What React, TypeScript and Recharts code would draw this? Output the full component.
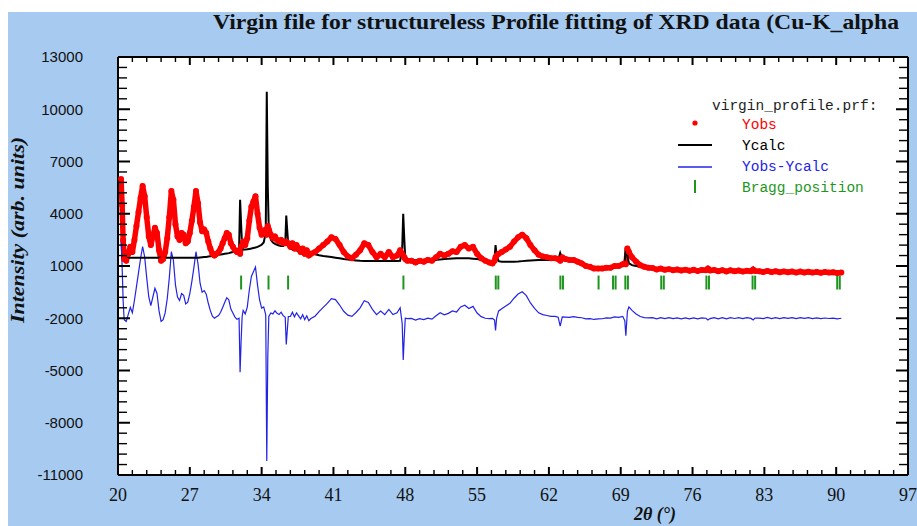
import React from 'react';
import { ComposedChart, XAxis, YAxis, Scatter, Line, ReferenceLine, CartesianGrid, Legend } from 'recharts';

// ---- 2theta grid (deg) and intensities ----
const twoThetaA = [
  20.3, 20.4, 20.5, 20.6, 20.8, 21.0, 21.2, 21.4, 21.6, 21.8,
  22.0, 22.2, 22.4, 22.6, 22.8, 23.0, 23.2, 23.4, 23.6, 23.8,
  24.0, 24.2, 24.4, 24.6, 24.8, 25.0, 25.2, 25.4, 25.6, 25.8,
  26.0, 26.2, 26.4, 26.6, 26.8, 27.0, 27.2, 27.4, 27.6, 27.8,
  28.0, 28.2, 28.4, 28.6, 28.8, 29.0, 29.2, 29.4, 29.6, 29.8,
  30.0, 30.2, 30.4, 30.6, 30.8, 31.0, 31.2, 31.4, 31.6, 31.8,
  31.9, 32.0, 32.1, 32.2, 32.4, 32.6, 32.8, 33.0, 33.2, 33.4,
  33.6, 33.8, 34.0, 34.2, 34.4, 34.5, 34.6, 34.7, 34.9, 35.1,
  35.3, 35.5, 35.7, 35.9, 36.1, 36.3, 36.4, 36.5, 36.6, 36.8,
  37.0, 37.2, 37.4, 37.6, 37.8, 38.0, 38.2, 38.4, 38.6, 38.8,
];
const yObsA = [
  6000, 4500, 2500, 1400, 1300, 1700, 2100, 1800, 2500, 3300,
  4100, 4900, 5600, 5000, 3800, 2700, 2200, 2700, 3200, 2900,
  1900, 1300, 1400, 1800, 2600, 3800, 5300, 4800, 3400, 2700,
  2500, 2900, 2800, 2300, 2400, 2900, 3600, 4400, 5300, 4600,
  3500, 3000, 3100, 2900, 2400, 2000, 1700, 1600, 1700, 1800,
  2000, 2300, 2600, 2900, 2800, 2300, 2100, 1900, 1800, 1900,
  1700, 2100, 2200, 2400, 2200, 2600, 3600, 4400, 4700, 5000,
  4000, 3200, 2800, 3000, 3100, 2800, 3300, 3100, 2800, 2600,
  2700, 2500, 2400, 2500, 2300, 2300, 2400, 2300, 2300, 2100,
  2300, 2000, 2200, 2000, 1800, 2000, 1700, 1900, 1600, 1700,
];
const yCalcA = [
  1480, 1480, 1480, 1480, 1480, 1480, 1480, 1480, 1480, 1480,
  1480, 1480, 1480, 1480, 1480, 1480, 1480, 1480, 1480, 1480,
  1480, 1480, 1480, 1480, 1480, 1480, 1480, 1480, 1480, 1480,
  1480, 1480, 1480, 1480, 1480, 1480, 1480, 1480, 1480, 1480,
  1490, 1500, 1510, 1520, 1540, 1560, 1580, 1600, 1620, 1640,
  1660, 1680, 1700, 1720, 1740, 1770, 1800, 1830, 1860, 1900,
  4800, 3400, 2100, 1950, 1950, 1960, 1980, 2000, 2030, 2060,
  2100, 2150, 2220, 2350, 2900, 11000, 5500, 3000, 2500, 2350,
  2270, 2220, 2180, 2150, 2150, 2250, 3900, 3000, 2200, 2000,
  1950, 1920, 1890, 1860, 1830, 1800, 1780, 1760, 1740, 1720,
];

const twoThetaB = [
  39.2, 39.6, 40.0, 40.4, 40.8, 41.2, 41.6, 42.0, 42.4, 42.8,
  43.2, 43.6, 44.0, 44.4, 44.8, 45.2, 45.6, 46.0, 46.4, 46.8,
  47.2, 47.5, 47.7, 47.8, 47.9, 48.0, 48.2, 48.6, 49.0, 49.4,
  49.8, 50.2, 50.6, 51.0, 51.4, 51.8, 52.2, 52.6, 53.0, 53.4,
  53.8, 54.2, 54.6, 55.0, 55.4, 55.8, 56.2, 56.5, 56.7, 56.8,
  56.9, 57.1, 57.4,
];
const yObsB = [
  1800, 2000, 2200, 2400, 2650, 2550, 2200, 1800, 1550, 1450,
  1650, 1900, 2300, 2200, 1800, 1500, 1700, 1500, 1800, 1500,
  1600, 1900, 1700, 1600, 1500, 1400, 1300, 1300, 1200, 1300,
  1250, 1350, 1300, 1500, 1700, 1600, 1700, 1850, 1800, 2100,
  2200, 2000, 2100, 1700, 1450, 1300, 1200, 1150, 1300, 1500,
  1600, 1700, 1800,
];
const yCalcB = [
  1680, 1620, 1580, 1550, 1520, 1480, 1440, 1400, 1370, 1340,
  1320, 1300, 1290, 1290, 1290, 1290, 1290, 1290, 1290, 1290,
  1290, 1300, 2000, 4000, 2600, 1400, 1320, 1310, 1310, 1320,
  1330, 1340, 1350, 1360, 1380, 1400, 1420, 1430, 1440, 1450,
  1450, 1440, 1420, 1400, 1360, 1300, 1220, 1160, 1400, 2200,
  1600, 1280, 1250,
];

const twoThetaC = [
  57.8, 58.2, 58.6, 59.0, 59.4, 59.8, 60.2, 60.6, 61.0, 61.4,
  61.8, 62.2, 62.6, 62.9, 63.1, 63.3, 63.6, 64.0, 64.4, 64.8,
  65.2, 65.6, 66.0, 66.4, 66.8, 67.2, 67.6, 68.0, 68.4, 68.8,
  69.2, 69.4, 69.5, 69.65, 69.8, 70.1, 70.5, 70.9, 71.3, 71.7,
  72.1, 72.5, 72.9, 73.3, 73.7, 74.1, 74.5, 74.9, 75.3, 75.7,
  76.1, 76.5, 76.9, 77.3, 77.5, 77.7, 78.1, 78.5, 78.9, 79.3,
  79.7, 80.1, 80.5, 80.9, 81.3, 81.7, 81.9, 82.1, 82.5, 82.9,
  83.3, 83.7, 84.1, 84.5, 84.9, 85.3, 85.7, 86.1, 86.5, 86.9,
  87.3, 87.7, 88.1, 88.5, 88.9, 89.3, 89.7, 90.1, 90.5,
];
const yObsC = [
  1950, 2100, 2400, 2650, 2800, 2600, 2200, 1900, 1650, 1550,
  1500, 1450, 1450, 1400, 1300, 1500, 1400, 1350, 1350, 1250,
  1150, 1000, 950, 850, 850, 850, 900, 900, 1000, 1000,
  1100, 1150, 1100, 2000, 1800, 1500, 1250, 1050, 950, 900,
  880, 800, 850, 780, 820, 760, 800, 740, 790, 730,
  780, 720, 770, 760, 850, 740, 770, 700, 760, 690,
  750, 700, 740, 680, 730, 700, 800, 720, 700, 660,
  720, 650, 700, 640, 690, 640, 680, 620, 680, 630,
  670, 620, 660, 610, 650, 620, 640, 600, 630,
];
const yCalcC = [
  1240, 1240, 1250, 1260, 1280, 1300, 1320, 1330, 1340, 1340,
  1340, 1340, 1340, 1340, 1750, 1420, 1330, 1300, 1260, 1200,
  1120, 1040, 970, 920, 890, 880, 880, 890, 920, 950,
  1000, 1300, 2100, 1600, 1150, 1050, 1000, 950, 910, 880,
  850, 830, 810, 800, 790, 780, 775, 770, 765, 760,
  755, 750, 750, 760, 950, 760, 740, 735, 730, 725,
  720, 715, 710, 705, 700, 710, 900, 710, 690, 680,
  675, 670, 665, 660, 655, 650, 645, 640, 640, 640,
  640, 640, 635, 635, 635, 635, 635, 630, 630,
];

const braggPositions = [
  32.0, 34.67, 36.58, 47.82, 56.82, 57.07, 63.12, 63.37, 66.84,
  68.25, 68.5, 69.45, 69.7, 72.95, 73.2, 77.35, 77.6, 81.85, 82.1, 90.1, 90.35,
];

const xMajorTicks = [20, 27, 34, 41, 48, 55, 62, 69, 76, 83, 90, 97];
const yMajorTicks = [-11000, -8000, -5000, -2000, 1000, 4000, 7000, 10000, 13000];
const diffOffset = -2000;

const twoTheta = [...twoThetaA, ...twoThetaB, ...twoThetaC];
const yObs = [...yObsA, ...yObsB, ...yObsC];
const yCalc = [...yCalcA, ...yCalcB, ...yCalcC];
const nPts = Math.min(twoTheta.length, yObs.length, yCalc.length);
const data = twoTheta.slice(0, nPts).map((tt, i) => ({
  tt,
  yObs: yObs[i],
  yCalc: yCalc[i],
  diff: yObs[i] - yCalc[i] + diffOffset,
}));

function withMinor(majors: number[], parts: number) {
  const out: number[] = [];
  for (let i = 0; i < majors.length - 1; i++) {
    const a = majors[i];
    const b = majors[i + 1];
    for (let k = 0; k < parts; k++) out.push(Math.round((a + ((b - a) * k) / parts) * 1000) / 1000);
  }
  out.push(majors[majors.length - 1]);
  return out;
}
const xTicks = withMinor(xMajorTicks, 5);
const yTicks = withMinor(yMajorTicks, 5);

const RED = '#ff0000';
const BLUE = '#2323e6';
const GREEN = '#1e961e';

const XBottomTick = (props: any) => {
  const { x, y, payload } = props;
  const major = xMajorTicks.includes(payload.value);
  return (
    <g>
      <line x1={x} x2={x} y1={y} y2={y - (major ? 8 : 5)} stroke="#000" strokeWidth={major ? 2 : 1.4} />
      {major && (
        <text x={x} y={y + 26} textAnchor="middle" fontFamily="'Liberation Serif', 'Times New Roman', serif" fontSize={18} fill="#111">
          {payload.value}
        </text>
      )}
    </g>
  );
};
const XTopTick = (props: any) => {
  const { x, y, payload } = props;
  const major = xMajorTicks.includes(payload.value);
  return <line x1={x} x2={x} y1={y} y2={y + (major ? 8 : 5)} stroke="#000" strokeWidth={major ? 2 : 1.4} />;
};
const YLeftTick = (props: any) => {
  const { x, y, payload } = props;
  const major = yMajorTicks.includes(payload.value);
  return (
    <g>
      <line x1={x} x2={x + (major ? 12 : 9)} y1={y} y2={y} stroke="#000" strokeWidth={major ? 2 : 1.4} />
      {major && (
        <text x={x - 35} y={y} dy="0.36em" textAnchor="end" fontFamily="'Liberation Sans', Arial, sans-serif" fontSize={15} fill="#111">
          {payload.value}
        </text>
      )}
    </g>
  );
};
const YRightTick = (props: any) => {
  const { x, y, payload } = props;
  const major = yMajorTicks.includes(payload.value);
  return <line x1={x} x2={x - (major ? 12 : 9)} y1={y} y2={y} stroke="#000" strokeWidth={major ? 2 : 1.4} />;
};

const mono = "'Liberation Mono', 'Courier New', monospace";
const renderLegend = () => (
  <svg width={240} height={110} style={{ display: 'block' }}>
    <text x={44} y={18} fontFamily={mono} fontSize={14.5} fill="#222">virgin_profile.prf:</text>
    <circle cx={27} cy={31} r={2.6} fill={RED} />
    <text x={74} y={37} fontFamily={mono} fontSize={14.5} fill={RED}>Yobs</text>
    <line x1={10} x2={44} y1={53} y2={53} stroke="#000" strokeWidth={2} />
    <text x={74} y={58} fontFamily={mono} fontSize={14.5} fill="#000">Ycalc</text>
    <line x1={10} x2={44} y1={75} y2={75} stroke={BLUE} strokeWidth={1.5} />
    <text x={74} y={79} fontFamily={mono} fontSize={14.5} fill={BLUE}>Yobs-Ycalc</text>
    <line x1={27} x2={27} y1={88} y2={101} stroke={GREEN} strokeWidth={2} />
    <text x={74} y={100} fontFamily={mono} fontSize={14.5} fill={GREEN}>Bragg_position</text>
  </svg>
);

const ObsDot = (p: any) => <circle cx={p.cx} cy={p.cy} r={3} fill={RED} />;

export default function App() {
  return (
    <div style={{ position: 'absolute', left: 8, top: 12, width: 909, height: 514, background: '#A6CAF0', overflow: 'hidden' }}>
      <ComposedChart width={909} height={514} data={data} margin={{ top: 0, right: 0, bottom: 0, left: 0 }}>
        <CartesianGrid xAxisId="b" yAxisId="l" horizontal={false} vertical={false} fill="#ffffff" />
        <XAxis xAxisId="b" dataKey="tt" type="number" domain={[20, 97]} allowDataOverflow ticks={xTicks} interval={0}
          height={51} tickSize={0} tickMargin={0} tickLine={false} axisLine={{ stroke: '#000', strokeWidth: 2 }} tick={XBottomTick} />
        <XAxis xAxisId="t" orientation="top" dataKey="tt" type="number" domain={[20, 97]} allowDataOverflow ticks={xTicks} interval={0}
          height={45} tickSize={0} tickMargin={0} tickLine={false} axisLine={{ stroke: '#000', strokeWidth: 2 }} tick={XTopTick} />
        <YAxis yAxisId="l" type="number" domain={[-11000, 13000]} allowDataOverflow ticks={yTicks} interval={0}
          width={110} tickSize={0} tickMargin={0} tickLine={false} axisLine={{ stroke: '#000', strokeWidth: 2 }} tick={YLeftTick} />
        <YAxis yAxisId="r" orientation="right" type="number" domain={[-11000, 13000]} allowDataOverflow ticks={yTicks} interval={0}
          width={9} tickSize={0} tickMargin={0} tickLine={false} axisLine={{ stroke: '#000', strokeWidth: 2 }} tick={YRightTick} />
        <Line xAxisId="b" yAxisId="l" type="linear" dataKey="yObs" name="Yobs band" stroke={RED} strokeWidth={5.5} strokeLinejoin="round" dot={false} activeDot={false} legendType="none" isAnimationActive={false} />
        <Scatter xAxisId="b" yAxisId="l" dataKey="yObs" name="Yobs" fill={RED} shape={ObsDot} isAnimationActive={false} />
        <Line xAxisId="b" yAxisId="l" type="linear" dataKey="diff" name="Yobs-Ycalc" stroke={BLUE} strokeWidth={1.2} dot={false} activeDot={false} isAnimationActive={false} />
        <Line xAxisId="b" yAxisId="l" type="linear" dataKey="yCalc" name="Ycalc" stroke="#000" strokeWidth={2} dot={false} activeDot={false} isAnimationActive={false} />
        {braggPositions.map((p) => (
          <ReferenceLine key={p} xAxisId="b" yAxisId="l" segment={[{ x: p, y: 450 }, { x: p, y: -350 }]} stroke={GREEN} strokeWidth={2} />
        ))}
        <Legend layout="vertical" align="center" verticalAlign="middle" content={renderLegend}
          wrapperStyle={{ position: 'absolute', left: 660, top: 80, width: 240, height: 110 }} />
      </ComposedChart>
      <svg width={909} height={514} style={{ position: 'absolute', left: 0, top: 0, pointerEvents: 'none' }}>
        <text x={205} y={17} textLength={686} lengthAdjust="spacingAndGlyphs" fontFamily="'Liberation Serif', 'Times New Roman', serif"
          fontWeight="bold" fontSize={20} fill="#111">Virgin file for structureless Profile fitting of XRD data (Cu-K_alpha</text>
        <text transform="translate(16, 218) rotate(-90)" textAnchor="middle" textLength={186} lengthAdjust="spacingAndGlyphs"
          fontFamily="'Liberation Serif', 'Times New Roman', serif" fontWeight="bold" fontStyle="italic" fontSize={18} fill="#111">Intensity (arb. units)</text>
        <text x={647} y={508} textAnchor="middle" fontFamily="'Liberation Serif', 'Times New Roman', serif" fontWeight="bold"
          fontStyle="italic" fontSize={18} fill="#111">2θ (°)</text>
      </svg>
    </div>
  );
}
